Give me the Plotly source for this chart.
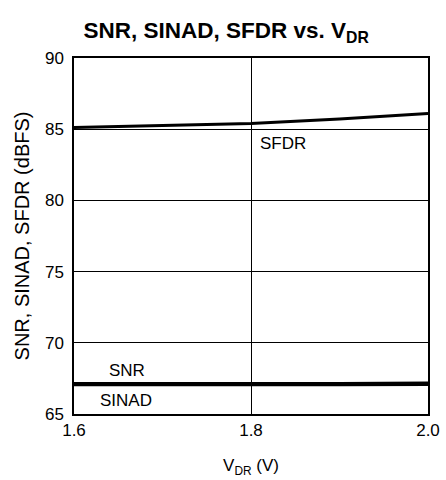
import plotly.graph_objects as go

vdr = [1.6, 1.7, 1.8, 1.9, 2.0]
sfdr = [85.12, 85.25, 85.4, 85.72, 86.1]
snr = [67.15, 67.15, 67.12, 67.15, 67.18]
sinad = [67.05, 67.05, 67.02, 67.05, 67.08]

FONT = "Liberation Sans, Arial, sans-serif"

fig = go.Figure()
fig.add_trace(go.Scatter(x=vdr, y=sfdr, mode="lines", line=dict(color="black", width=3), name="SFDR"))
fig.add_trace(go.Scatter(x=vdr, y=snr, mode="lines", line=dict(color="black", width=3), name="SNR"))
fig.add_trace(go.Scatter(x=vdr, y=sinad, mode="lines", line=dict(color="black", width=3), name="SINAD"))

fig.update_layout(
    width=446, height=480,
    margin=dict(l=74, r=18, t=58, b=66),
    paper_bgcolor="white", plot_bgcolor="white",
    showlegend=False,
    font=dict(family=FONT, size=17, color="black"),
    title=dict(text="<b>SNR, SINAD, SFDR vs. V<sub>DR</sub></b>", x=0.507, xanchor="center", xref="container",
               y=0.937, yanchor="middle", font=dict(family=FONT, size=22.5, color="black")),
    xaxis=dict(range=[1.6, 2.0], tickvals=[1.6, 1.8, 2.0], ticktext=["1.6", "1.8", "2.0"],
               showgrid=True, gridcolor="black", gridwidth=1, zeroline=False,
               showline=True, linecolor="black", linewidth=1.5, mirror=True, ticks="",
               tickfont=dict(size=17), automargin=False,
               title=dict(text="V<sub>DR</sub> (V)", font=dict(size=17), standoff=20)),
    yaxis=dict(range=[65, 90], tickvals=[65, 70, 75, 80, 85, 90],
               showgrid=True, gridcolor="black", gridwidth=1, zeroline=False,
               showline=True, linecolor="black", linewidth=1.5, mirror=True, ticks="",
               tickfont=dict(size=17), ticklabelstandoff=5, automargin=False,
               title=dict(text="SNR, SINAD, SFDR (dBFS)", font=dict(size=20), standoff=10)),
)

fig.add_annotation(x=1.8, y=84.0, text="SFDR", showarrow=False, xanchor="left", xshift=7,
                   font=dict(family=FONT, size=17, color="black"))
fig.add_annotation(x=1.6375, y=68.06, text="SNR", showarrow=False, xanchor="left",
                   font=dict(family=FONT, size=17, color="black"))
fig.add_annotation(x=1.6275, y=65.96, text="SINAD", showarrow=False, xanchor="left",
                   font=dict(family=FONT, size=17, color="black"))

fig.write_html("out.html", config={"displayModeBar": False},
               post_script="document.body.style.margin='0';document.body.style.overflow='hidden';")
